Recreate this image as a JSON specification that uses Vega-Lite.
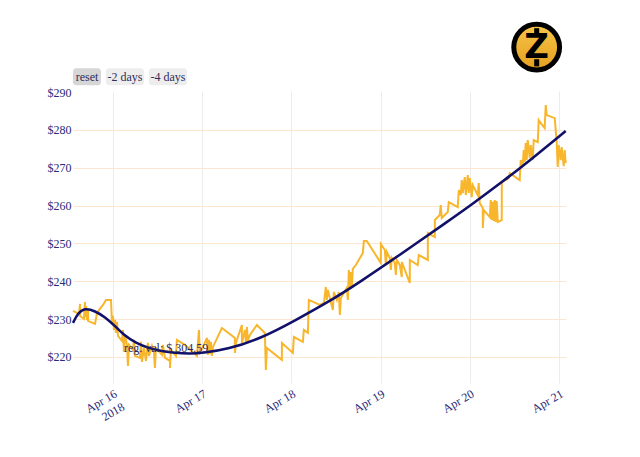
{
  "$schema": "https://vega.github.io/schema/vega-lite/v6.json",
  "width": 493,
  "height": 292,
  "autosize": {"type": "none"},
  "padding": {"left": 73, "top": 91, "right": 74, "bottom": 74},
  "background": "white",
  "config": {"view": {"stroke": null}},
  "datasets": {
    "price": [
      {"t": "2018-04-15T13:15", "p": 232.15},
      {"t": "2018-04-15T14:52", "p": 231.36},
      {"t": "2018-04-15T15:08", "p": 234.0},
      {"t": "2018-04-15T15:09", "p": 230.83},
      {"t": "2018-04-15T16:12", "p": 230.04},
      {"t": "2018-04-15T16:28", "p": 234.53},
      {"t": "2018-04-15T16:29", "p": 230.57},
      {"t": "2018-04-15T16:45", "p": 233.47},
      {"t": "2018-04-15T17:01", "p": 229.77},
      {"t": "2018-04-15T17:17", "p": 232.68},
      {"t": "2018-04-15T17:18", "p": 229.51},
      {"t": "2018-04-15T19:10", "p": 228.72},
      {"t": "2018-04-15T19:42", "p": 231.62},
      {"t": "2018-04-15T20:30", "p": 232.68},
      {"t": "2018-04-15T21:19", "p": 233.74},
      {"t": "2018-04-15T22:07", "p": 235.06},
      {"t": "2018-04-15T23:28", "p": 235.06},
      {"t": "2018-04-15T23:44", "p": 228.98},
      {"t": "2018-04-16T00:00", "p": 230.83},
      {"t": "2018-04-16T00:16", "p": 227.13},
      {"t": "2018-04-16T00:32", "p": 229.77},
      {"t": "2018-04-16T00:48", "p": 226.34},
      {"t": "2018-04-16T01:05", "p": 229.25},
      {"t": "2018-04-16T01:21", "p": 225.55},
      {"t": "2018-04-16T02:25", "p": 224.23},
      {"t": "2018-04-16T02:41", "p": 227.13},
      {"t": "2018-04-16T02:57", "p": 221.32},
      {"t": "2018-04-16T03:14", "p": 225.81},
      {"t": "2018-04-16T03:46", "p": 223.17},
      {"t": "2018-04-16T04:02", "p": 217.62},
      {"t": "2018-04-16T04:18", "p": 223.17},
      {"t": "2018-04-16T05:23", "p": 221.85},
      {"t": "2018-04-16T05:39", "p": 224.49},
      {"t": "2018-04-16T05:55", "p": 220.26},
      {"t": "2018-04-16T07:15", "p": 219.74},
      {"t": "2018-04-16T07:32", "p": 223.96},
      {"t": "2018-04-16T07:48", "p": 218.68},
      {"t": "2018-04-16T08:20", "p": 222.38},
      {"t": "2018-04-16T08:52", "p": 218.94},
      {"t": "2018-04-16T09:24", "p": 223.7},
      {"t": "2018-04-16T09:41", "p": 220.26},
      {"t": "2018-04-16T10:29", "p": 222.91},
      {"t": "2018-04-16T11:01", "p": 221.32},
      {"t": "2018-04-16T11:17", "p": 217.09},
      {"t": "2018-04-16T11:33", "p": 222.38},
      {"t": "2018-04-16T13:10", "p": 220.53},
      {"t": "2018-04-16T13:26", "p": 223.17},
      {"t": "2018-04-16T13:59", "p": 219.74},
      {"t": "2018-04-16T15:19", "p": 218.94},
      {"t": "2018-04-16T15:20", "p": 217.09},
      {"t": "2018-04-16T15:35", "p": 221.85},
      {"t": "2018-04-16T16:56", "p": 220.26},
      {"t": "2018-04-16T17:12", "p": 224.49},
      {"t": "2018-04-16T19:21", "p": 223.17},
      {"t": "2018-04-16T22:35", "p": 220.26},
      {"t": "2018-04-16T23:07", "p": 227.13},
      {"t": "2018-04-16T23:23", "p": 221.32},
      {"t": "2018-04-17T00:27", "p": 223.17},
      {"t": "2018-04-17T01:16", "p": 225.02},
      {"t": "2018-04-17T01:32", "p": 220.53},
      {"t": "2018-04-17T01:48", "p": 224.49},
      {"t": "2018-04-17T02:04", "p": 220.79},
      {"t": "2018-04-17T02:20", "p": 223.96},
      {"t": "2018-04-17T02:36", "p": 220.26},
      {"t": "2018-04-17T02:53", "p": 222.64},
      {"t": "2018-04-17T05:18", "p": 227.66},
      {"t": "2018-04-17T08:47", "p": 225.02},
      {"t": "2018-04-17T08:48", "p": 221.06},
      {"t": "2018-04-17T09:04", "p": 223.7},
      {"t": "2018-04-17T10:40", "p": 228.45},
      {"t": "2018-04-17T10:41", "p": 223.7},
      {"t": "2018-04-17T11:29", "p": 227.13},
      {"t": "2018-04-17T11:45", "p": 223.96},
      {"t": "2018-04-17T12:01", "p": 227.92},
      {"t": "2018-04-17T12:17", "p": 224.23},
      {"t": "2018-04-17T12:49", "p": 225.81},
      {"t": "2018-04-17T14:42", "p": 228.45},
      {"t": "2018-04-17T16:51", "p": 226.34},
      {"t": "2018-04-17T17:07", "p": 216.57},
      {"t": "2018-04-17T17:23", "p": 222.38},
      {"t": "2018-04-17T21:25", "p": 219.21},
      {"t": "2018-04-17T21:26", "p": 223.7},
      {"t": "2018-04-18T00:23", "p": 221.06},
      {"t": "2018-04-18T00:39", "p": 225.28},
      {"t": "2018-04-18T03:04", "p": 223.96},
      {"t": "2018-04-18T03:20", "p": 227.13},
      {"t": "2018-04-18T04:25", "p": 226.34},
      {"t": "2018-04-18T04:41", "p": 235.06},
      {"t": "2018-04-18T07:38", "p": 233.74},
      {"t": "2018-04-18T08:43", "p": 234.26},
      {"t": "2018-04-18T09:15", "p": 238.49},
      {"t": "2018-04-18T09:31", "p": 235.06},
      {"t": "2018-04-18T09:47", "p": 237.7},
      {"t": "2018-04-18T11:08", "p": 232.41},
      {"t": "2018-04-18T11:24", "p": 237.17},
      {"t": "2018-04-18T12:12", "p": 235.06},
      {"t": "2018-04-18T12:44", "p": 237.17},
      {"t": "2018-04-18T13:01", "p": 231.09},
      {"t": "2018-04-18T13:17", "p": 235.58},
      {"t": "2018-04-18T14:53", "p": 238.23},
      {"t": "2018-04-18T15:10", "p": 235.06},
      {"t": "2018-04-18T15:26", "p": 242.98},
      {"t": "2018-04-18T15:42", "p": 238.23},
      {"t": "2018-04-18T15:58", "p": 242.45},
      {"t": "2018-04-18T16:14", "p": 238.23},
      {"t": "2018-04-18T16:30", "p": 243.25},
      {"t": "2018-04-18T17:19", "p": 244.3},
      {"t": "2018-04-18T19:12", "p": 247.47},
      {"t": "2018-04-18T19:28", "p": 250.64},
      {"t": "2018-04-18T20:16", "p": 250.64},
      {"t": "2018-04-19T00:02", "p": 244.83},
      {"t": "2018-04-19T00:03", "p": 249.85},
      {"t": "2018-04-19T01:07", "p": 248.26},
      {"t": "2018-04-19T01:23", "p": 244.3},
      {"t": "2018-04-19T01:39", "p": 247.74},
      {"t": "2018-04-19T02:27", "p": 246.15},
      {"t": "2018-04-19T02:43", "p": 242.98},
      {"t": "2018-04-19T02:59", "p": 246.15},
      {"t": "2018-04-19T03:48", "p": 244.83},
      {"t": "2018-04-19T04:04", "p": 241.66},
      {"t": "2018-04-19T04:20", "p": 245.62},
      {"t": "2018-04-19T05:08", "p": 244.3},
      {"t": "2018-04-19T05:40", "p": 241.13},
      {"t": "2018-04-19T05:41", "p": 245.09},
      {"t": "2018-04-19T07:49", "p": 239.55},
      {"t": "2018-04-19T07:50", "p": 245.62},
      {"t": "2018-04-19T09:58", "p": 244.3},
      {"t": "2018-04-19T10:15", "p": 246.94},
      {"t": "2018-04-19T12:40", "p": 245.62},
      {"t": "2018-04-19T12:41", "p": 252.75},
      {"t": "2018-04-19T14:33", "p": 251.7},
      {"t": "2018-04-19T14:34", "p": 256.19},
      {"t": "2018-04-19T15:53", "p": 257.51},
      {"t": "2018-04-19T16:09", "p": 260.15},
      {"t": "2018-04-19T16:25", "p": 256.72},
      {"t": "2018-04-19T18:02", "p": 258.3},
      {"t": "2018-04-19T18:18", "p": 260.94},
      {"t": "2018-04-19T20:43", "p": 259.62},
      {"t": "2018-04-19T21:00", "p": 264.11},
      {"t": "2018-04-19T21:32", "p": 262.79},
      {"t": "2018-04-19T21:48", "p": 266.75},
      {"t": "2018-04-19T22:04", "p": 263.32},
      {"t": "2018-04-19T22:36", "p": 267.55},
      {"t": "2018-04-19T22:53", "p": 262.79},
      {"t": "2018-04-19T23:25", "p": 268.08},
      {"t": "2018-04-19T23:41", "p": 263.32},
      {"t": "2018-04-19T23:57", "p": 267.28},
      {"t": "2018-04-20T00:29", "p": 262.26},
      {"t": "2018-04-20T00:45", "p": 265.43},
      {"t": "2018-04-20T02:06", "p": 262.79},
      {"t": "2018-04-20T02:22", "p": 265.96},
      {"t": "2018-04-20T02:38", "p": 260.68},
      {"t": "2018-04-20T03:27", "p": 259.36},
      {"t": "2018-04-20T03:28", "p": 254.08},
      {"t": "2018-04-20T03:43", "p": 258.83},
      {"t": "2018-04-20T05:20", "p": 256.98},
      {"t": "2018-04-20T05:36", "p": 261.47},
      {"t": "2018-04-20T05:52", "p": 256.19},
      {"t": "2018-04-20T06:08", "p": 261.0},
      {"t": "2018-04-20T06:24", "p": 255.92},
      {"t": "2018-04-20T06:40", "p": 261.47},
      {"t": "2018-04-20T06:56", "p": 255.66},
      {"t": "2018-04-20T07:12", "p": 261.21},
      {"t": "2018-04-20T07:29", "p": 255.66},
      {"t": "2018-04-20T08:33", "p": 256.19},
      {"t": "2018-04-20T08:34", "p": 266.23},
      {"t": "2018-04-20T10:26", "p": 267.28},
      {"t": "2018-04-20T10:42", "p": 268.6},
      {"t": "2018-04-20T13:23", "p": 266.75},
      {"t": "2018-04-20T13:39", "p": 272.04},
      {"t": "2018-04-20T14:12", "p": 270.72},
      {"t": "2018-04-20T14:28", "p": 274.68},
      {"t": "2018-04-20T14:44", "p": 271.51},
      {"t": "2018-04-20T15:00", "p": 276.53},
      {"t": "2018-04-20T15:16", "p": 272.04},
      {"t": "2018-04-20T15:32", "p": 277.32},
      {"t": "2018-04-20T16:05", "p": 272.57},
      {"t": "2018-04-20T16:21", "p": 276.0},
      {"t": "2018-04-20T16:53", "p": 272.04},
      {"t": "2018-04-20T17:09", "p": 277.32},
      {"t": "2018-04-20T18:14", "p": 276.79},
      {"t": "2018-04-20T18:30", "p": 282.6},
      {"t": "2018-04-20T19:02", "p": 281.81},
      {"t": "2018-04-20T20:06", "p": 280.49},
      {"t": "2018-04-20T20:23", "p": 286.57},
      {"t": "2018-04-20T20:39", "p": 283.92},
      {"t": "2018-04-20T22:48", "p": 283.13},
      {"t": "2018-04-20T23:20", "p": 276.79},
      {"t": "2018-04-20T23:36", "p": 270.19},
      {"t": "2018-04-20T23:52", "p": 276.0},
      {"t": "2018-04-21T00:24", "p": 272.04},
      {"t": "2018-04-21T00:40", "p": 275.47},
      {"t": "2018-04-21T01:13", "p": 270.45},
      {"t": "2018-04-21T01:29", "p": 274.68},
      {"t": "2018-04-21T01:45", "p": 271.25}
    ],
    "reg": [
      {"t": "2018-04-15T13:15", "p": 228.98},
      {"t": "2018-04-15T14:36", "p": 231.62},
      {"t": "2018-04-15T16:28", "p": 232.94},
      {"t": "2018-04-15T19:10", "p": 232.15},
      {"t": "2018-04-15T21:51", "p": 230.57},
      {"t": "2018-04-16T00:32", "p": 228.19},
      {"t": "2018-04-16T03:14", "p": 225.5},
      {"t": "2018-04-16T06:11", "p": 223.7},
      {"t": "2018-04-16T09:24", "p": 222.38},
      {"t": "2018-04-16T13:10", "p": 221.5},
      {"t": "2018-04-16T16:40", "p": 221.06},
      {"t": "2018-04-16T20:42", "p": 220.85},
      {"t": "2018-04-16T23:55", "p": 221.0},
      {"t": "2018-04-17T06:54", "p": 222.0},
      {"t": "2018-04-17T16:03", "p": 225.0},
      {"t": "2018-04-18T00:55", "p": 229.6},
      {"t": "2018-04-18T10:52", "p": 235.06},
      {"t": "2018-04-18T18:23", "p": 239.81},
      {"t": "2018-04-19T04:20", "p": 246.42},
      {"t": "2018-04-19T18:34", "p": 256.19},
      {"t": "2018-04-19T23:57", "p": 259.9},
      {"t": "2018-04-20T09:54", "p": 267.2},
      {"t": "2018-04-20T15:32", "p": 271.5},
      {"t": "2018-04-21T01:45", "p": 279.7}
    ],
    "buttons": [
      {"t": "2018-04-15T13:15", "t2": "2018-04-15T20:46", "tc": "2018-04-15T17:01", "p": 296.3, "p2": 291.85, "pc": 294.1, "label": "reset"},
      {"t": "2018-04-15T22:07", "t2": "2018-04-16T08:20", "tc": "2018-04-16T03:14", "p": 296.3, "p2": 291.85, "pc": 294.1, "label": "-2 days"},
      {"t": "2018-04-16T09:41", "t2": "2018-04-16T19:53", "tc": "2018-04-16T14:47", "p": 296.3, "p2": 291.85, "pc": 294.1, "label": "-4 days"}
    ],
    "note": [
      {"t": "2018-04-16T02:57", "p": 222.38, "label": "reg. val: $ 304.59"}
    ],
    "logo": [
      {"t": "2018-04-20T17:57", "p": 301.9, "ptop": 306.9, "ptop2": 305.0, "pbot": 298.7, "pbot2": 296.8}
    ]
  },
  "encoding": {
    "x": {
      "field": "t",
      "type": "temporal",
      "scale": {
        "domain": [
          {"year": 2018, "month": 4, "date": 15, "hours": 13, "minutes": 15},
          {"year": 2018, "month": 4, "date": 21, "hours": 1, "minutes": 50}
        ],
        "nice": false
      },
      "axis": {
        "title": null,
        "domain": false,
        "ticks": false,
        "grid": true,
        "gridColor": "#ececec",
        "gridWidth": 1,
        "tickCount": {"interval": "day", "step": 1},
        "labelAngle": -30,
        "labelFont": "Liberation Serif",
        "labelFontSize": 12,
        "labelColor": "#2a2a78",
        "labelPadding": 5,
        "labelFlush": false,
        "labelOverlap": false,
        "labelLineHeight": 15,
        "labelExpr": "timeFormat(datum.value, '%d') == '16' ? [timeFormat(datum.value, '%b %d'), '2018'] : timeFormat(datum.value, '%b %d')"
      }
    },
    "y": {
      "field": "p",
      "type": "quantitative",
      "scale": {"domain": [213.1, 290.3], "nice": false, "zero": false},
      "axis": {
        "title": null,
        "domain": false,
        "ticks": false,
        "grid": true,
        "gridColor": "#fde6cf",
        "gridWidth": 1,
        "gridOpacity": {"condition": {"test": "datum.value == 290", "value": 0}, "value": 1},
        "values": [220, 230, 240, 250, 260, 270, 280, 290],
        "labelExpr": "'$' + datum.value",
        "labelFont": "Liberation Serif",
        "labelFontSize": 12,
        "labelColor": "#2a2a78",
        "labelPadding": 2
      }
    }
  },
  "layer": [
    {
      "data": {"name": "buttons"},
      "mark": {"type": "rect", "clip": false, "cornerRadius": 3},
      "encoding": {
        "x2": {"field": "t2"},
        "y2": {"field": "p2"},
        "color": {
          "condition": {"test": "datum.label == 'reset'", "value": "#d6d6d6"},
          "value": "#ededed"
        }
      }
    },
    {
      "data": {"name": "buttons"},
      "mark": {"type": "text", "clip": false, "font": "Liberation Serif", "fontSize": 12, "color": "#2f2f5a", "align": "center", "baseline": "middle"},
      "encoding": {
        "x": {"field": "tc", "type": "temporal"},
        "y": {"field": "pc", "type": "quantitative"},
        "text": {"field": "label"}
      }
    },
    {
      "data": {"name": "price"},
      "mark": {"type": "line", "color": "#f8b62c", "strokeWidth": 2, "strokeJoin": "miter"},
      "encoding": {}
    },
    {
      "data": {"name": "reg"},
      "mark": {"type": "line", "color": "#11116a", "strokeWidth": 2.6, "interpolate": "basis"},
      "encoding": {}
    },
    {
      "data": {"name": "note"},
      "mark": {"type": "text", "font": "Liberation Serif", "fontSize": 12, "color": "#2a2a5a", "align": "left", "baseline": "middle"},
      "encoding": {"text": {"field": "label"}}
    },
    {
      "data": {"name": "logo"},
      "mark": {
        "type": "point",
        "shape": "circle",
        "clip": false,
        "filled": true,
        "size": 2100,
        "opacity": 1,
        "stroke": "#000000",
        "strokeWidth": 5,
        "fill": {
          "gradient": "linear",
          "x1": 0, "y1": 0, "x2": 0, "y2": 1,
          "stops": [{"offset": 0, "color": "#f6c548"}, {"offset": 1, "color": "#e59f1e"}]
        }
      },
      "encoding": {}
    },
    {
      "data": {"name": "logo"},
      "mark": {"type": "rule", "clip": false, "color": "#000000", "strokeWidth": 5},
      "encoding": {"y": {"field": "ptop", "type": "quantitative"}, "y2": {"field": "ptop2"}}
    },
    {
      "data": {"name": "logo"},
      "mark": {"type": "rule", "clip": false, "color": "#000000", "strokeWidth": 5},
      "encoding": {"y": {"field": "pbot", "type": "quantitative"}, "y2": {"field": "pbot2"}}
    },
    {
      "data": {"name": "logo"},
      "mark": {"type": "text", "clip": false, "text": "Z", "font": "DejaVu Sans", "fontWeight": "bold", "fontSize": 34, "color": "#000000", "align": "center", "baseline": "middle", "dy": 1},
      "encoding": {}
    }
  ]
}
